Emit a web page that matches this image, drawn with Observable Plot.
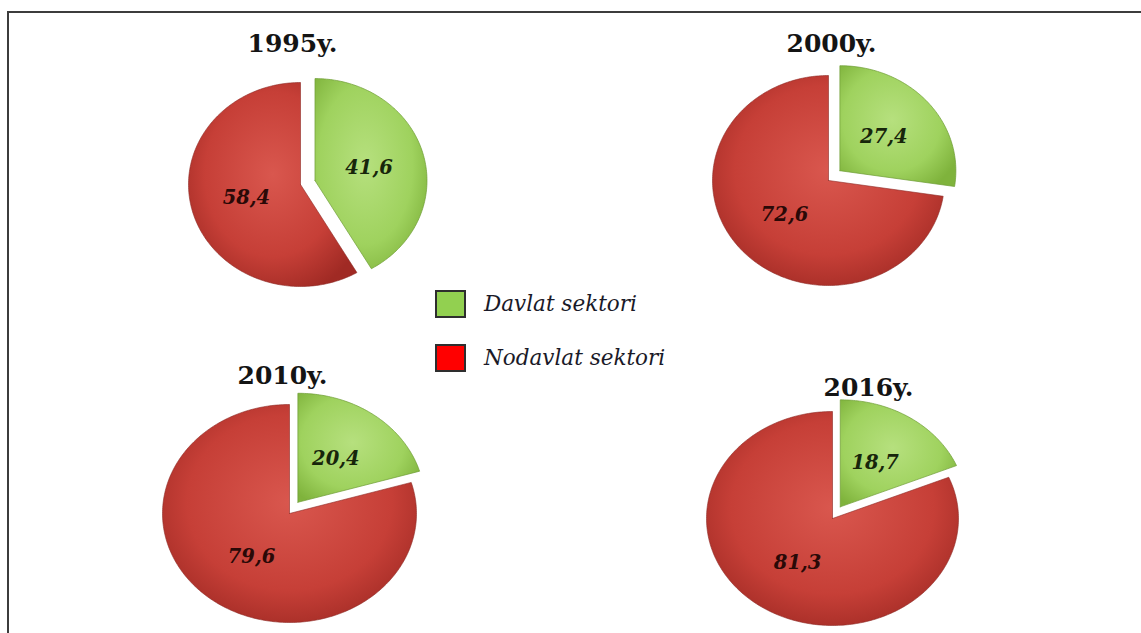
<!DOCTYPE html>
<html>
<head>
<meta charset="utf-8">
<script src="https://cdn.jsdelivr.net/npm/d3@7"></script>
<script src="https://cdn.jsdelivr.net/npm/@observablehq/plot@0.6"></script>
<style>
  html, body { margin: 0; padding: 0; background: #fff; }
  #wrap { position: relative; width: 1141px; height: 633px; overflow: hidden; }
  #frame { position: absolute; left: 7px; top: 11px; right: -10px; bottom: -10px;
           border-top: 2px solid #3c3c3c; border-left: 2px solid #3c3c3c; }
  #legend { position: absolute; left: 435px; top: 289px; font-family: "DejaVu Serif", serif;
            font-style: italic; font-size: 21.5px; color: #1a1a28; }
  .row { display: flex; align-items: center; height: 29px; margin-bottom: 25px; }
  .sw { width: 27px; height: 24px; border: 2px solid #2e2e2e; margin-right: 18px; }
</style>
</head>
<body>
<div id="wrap">
  <div id="chart"></div>
  <div id="frame"></div>
  <div id="legend"></div>
</div>
<script>
// ---- data ----
const years = ["1995y.", "2000y.", "2010y.", "2016y."];
const davlat = [41.6, 27.4, 20.4, 18.7];     // Davlat sektori (%)
const nodavlat = [58.4, 72.6, 79.6, 81.3];   // Nodavlat sektori (%)
const sectors = ["Davlat sektori", "Nodavlat sektori"];
const legendColors = ["#92d050", "#ff0000"];

// ---- layout (positions / sizes) ----
const layout = [
  {cx: 300, cy: 184, rx: 112, ry: 102, ex: 15, tx: 292, ty: 43},
  {cx: 828, cy: 180, rx: 116, ry: 105, ex: 15, tx: 831, ty: 43},
  {cx: 289, cy: 513, rx: 127, ry: 109, ex: 14, tx: 282, ty: 375},
  {cx: 832, cy: 518, rx: 126, ry: 107, ex: 14, tx: 868, ty: 387}
];

const pts = [];
const labels = [];
const titles = [];
years.forEach((yr, i) => {
  const L = layout[i];
  const vals = [davlat[i], nodavlat[i]];
  const total = d3.sum(vals);
  titles.push({x: L.tx, y: L.ty, text: yr});
  let a0 = 0;
  vals.forEach((v, j) => {
    const a1 = a0 + v / total * 2 * Math.PI;
    const mid = (a0 + a1) / 2;
    const ox = j === 0 ? L.ex * Math.sin(mid) : 0;
    const oy = j === 0 ? -L.ex * Math.cos(mid) : 0;
    const cx = L.cx + ox, cy = L.cy + oy;
    const key = yr + "-" + j;
    pts.push({key, sector: sectors[j], x: cx, y: cy});
    const n = Math.max(8, Math.ceil((a1 - a0) * 180 / Math.PI));
    for (let k = 0; k <= n; k++) {
      const a = a0 + (a1 - a0) * k / n;
      pts.push({key, sector: sectors[j], x: cx + L.rx * Math.sin(a), y: cy - L.ry * Math.cos(a)});
    }
    pts.push({key, sector: sectors[j], x: cx, y: cy});
    labels.push({
      sector: sectors[j],
      x: cx + 0.5 * L.rx * Math.sin(mid),
      y: cy - 0.5 * L.ry * Math.cos(mid),
      text: v.toFixed(1).replace(".", ",")
    });
    a0 = a1;
  });
});

const green = pts.filter(d => d.sector === sectors[0]);
const red = pts.filter(d => d.sector === sectors[1]);

const chart = Plot.plot({
  width: 1141,
  height: 633,
  margin: 0,
  style: {background: "transparent"},
  x: {domain: [0, 1141], range: [0, 1141], axis: null},
  y: {domain: [0, 633], range: [0, 633], axis: null},
  color: {domain: sectors, range: ["url(#gGreen)", "url(#gRed)"]},
  marks: [
    Plot.line(red, {x: "x", y: "y", z: "key", fill: "sector", stroke: "#8e2a24", strokeWidth: 1, strokeOpacity: 0.6}),
    Plot.line(green, {x: "x", y: "y", z: "key", fill: "sector", stroke: "#6e9c35", strokeWidth: 1, strokeOpacity: 0.7}),
    Plot.text(labels.filter(d => d.sector === sectors[0]), {x: "x", y: "y", text: "text", fill: "#17260b",
      fontFamily: "DejaVu Serif", fontWeight: "bold", fontStyle: "italic", fontSize: 19.5}),
    Plot.text(labels.filter(d => d.sector === sectors[1]), {x: "x", y: "y", text: "text", fill: "#2a0907",
      fontFamily: "DejaVu Serif", fontWeight: "bold", fontStyle: "italic", fontSize: 19.5}),
    Plot.text(titles, {x: "x", y: "y", text: "text", fill: "#141414",
      fontFamily: "DejaVu Serif", fontWeight: "bold", fontSize: 25})
  ]
});

const defs = d3.select(chart).insert("defs", ":first-child");
const gR = defs.append("radialGradient").attr("id", "gRed").attr("cx", "50%").attr("cy", "45%").attr("r", "62%");
gR.append("stop").attr("offset", "0%").attr("stop-color", "#d9574e");
gR.append("stop").attr("offset", "65%").attr("stop-color", "#c63f37");
gR.append("stop").attr("offset", "100%").attr("stop-color", "#a02a24");
const gG = defs.append("radialGradient").attr("id", "gGreen").attr("cx", "45%").attr("cy", "45%").attr("r", "65%");
gG.append("stop").attr("offset", "0%").attr("stop-color", "#b6e07e");
gG.append("stop").attr("offset", "65%").attr("stop-color", "#9fd25e");
gG.append("stop").attr("offset", "100%").attr("stop-color", "#7fb33c");

document.getElementById("chart").appendChild(chart);

const legend = d3.select("#legend");
sectors.forEach((s, i) => {
  const row = legend.append("div").attr("class", "row");
  row.append("div").attr("class", "sw").style("background", legendColors[i]);
  row.append("span").text(s);
});
</script>
</body>
</html>
